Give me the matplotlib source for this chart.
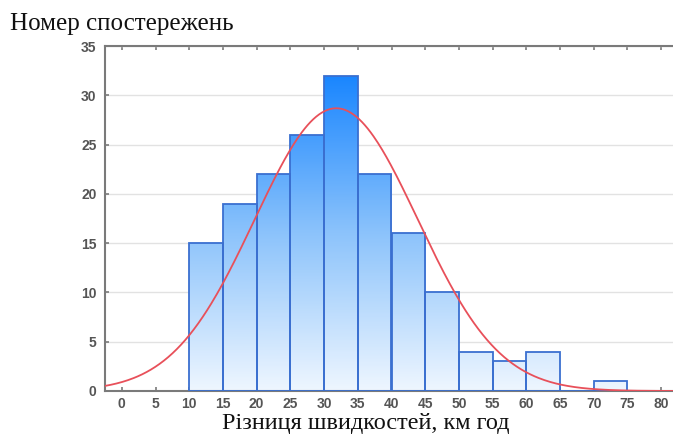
import numpy as np
import matplotlib
matplotlib.use("Agg")
import matplotlib.pyplot as plt
from matplotlib.colors import LinearSegmentedColormap, Normalize
from matplotlib.patches import Rectangle

# =============================================================
# DATA
# =============================================================
bin_left   = [10, 15, 20, 25, 30, 35, 40, 45, 50, 55, 60, 65, 70]
counts     = [15, 19, 22, 26, 32, 22, 16, 10, 4, 3, 4, 0, 1]
BIN_WIDTH  = 5
FIT_MU     = 31.8    # fitted normal curve, read from the peak position
FIT_SIGMA  = 12.1
x_ticks    = [0, 5, 10, 15, 20, 25, 30, 35, 40, 45, 50, 55, 60, 65, 70, 75, 80]
y_ticks    = [0, 5, 10, 15, 20, 25, 30, 35]

TITLE  = "Номер спостережень"
XLABEL = "Різниця швидкостей, км год"

# =============================================================
# STYLE
# =============================================================
SERIF = ["Liberation Serif", "DejaVu Serif"]
TICKFONT = ["Liberation Sans", "DejaVu Sans"]
EDGE = "#3a6fd0"
CURVE = "#e8505a"
SPINE = "#7a7a7a"
grad_cmap = LinearSegmentedColormap.from_list("blu", ["#eef6ff", "#8cc3fb", "#1a86ff"])

fig = plt.figure(figsize=(6.73, 4.34), dpi=100)
ax = fig.add_axes([105 / 673, 43 / 434, 573 / 673, 345 / 434])

ax.set_xlim(-2.5, 82.5)
ax.set_ylim(0, 35)

# gradient-filled bars (colour follows the y value, like the original)
norm = Normalize(0, max(counts))
for left, h in zip(bin_left, counts):
    if h == 0:
        continue
    grad = np.linspace(0, h, 200).reshape(-1, 1)
    im = ax.imshow(grad, extent=(left, left + BIN_WIDTH, 0, h), origin="lower",
                   cmap=grad_cmap, norm=norm, aspect="auto", zorder=2,
                   interpolation="bilinear")
    rect = Rectangle((left, 0), BIN_WIDTH, h, transform=ax.transData)
    im.set_clip_path(rect)
ax.bar(bin_left, counts, width=BIN_WIDTH, align="edge", fill=False,
       edgecolor=EDGE, linewidth=1.3, zorder=3)

# normal fit
xs = np.linspace(-2.5, 82.5, 400)
n_total = sum(counts)
ys = n_total * BIN_WIDTH / (FIT_SIGMA * np.sqrt(2 * np.pi)) * np.exp(-(xs - FIT_MU) ** 2 / (2 * FIT_SIGMA ** 2))
ax.plot(xs, ys, color=CURVE, lw=1.3, zorder=4)

# axes cosmetics
ax.set_xticks(x_ticks)
ax.set_yticks(y_ticks)
ax.yaxis.grid(True, color="#e2e2e2", lw=1.0)
ax.set_axisbelow(True)
ax.tick_params(direction="in", length=3, width=1.2, color=SPINE,
               top=True, labelsize=10, labelcolor="#555555")
ax.tick_params(axis="x", pad=4)
ax.tick_params(axis="y", pad=6)
for lab in ax.get_xticklabels() + ax.get_yticklabels():
    lab.set_family(TICKFONT)
    lab.set_fontweight("bold")
for s in ["left", "bottom", "top"]:
    ax.spines[s].set_color(SPINE)
    ax.spines[s].set_linewidth(1.5)
ax.spines["right"].set_visible(False)

fig.text(10 / 673, 1 - 24 / 434, TITLE, family=SERIF, fontsize=18,
         ha="left", va="center", color="#111111")
fig.text(366 / 673, 0, XLABEL, family=SERIF, fontsize=17.5,
         ha="center", va="bottom", color="#111111")

fig.savefig("out.png", dpi=100)
